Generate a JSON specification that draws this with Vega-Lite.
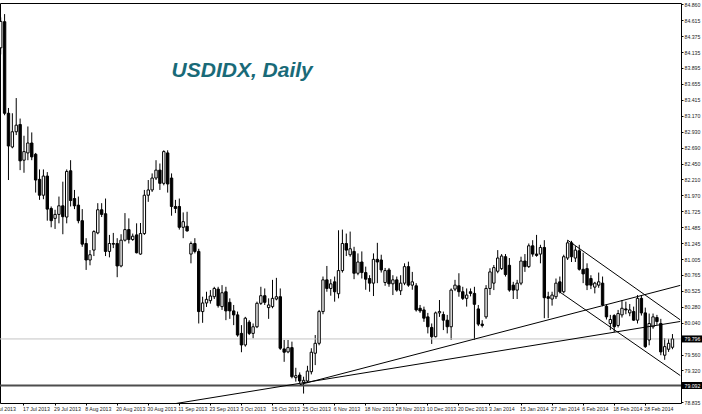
{
"$schema": "https://vega.github.io/schema/vega-lite/v6.json",
"width": 681, "height": 400,
"autosize": {"type": "none"},
"padding": {"left": 0, "top": 3, "right": 21, "bottom": 11},
"background": "white",
"config": {"view": {"stroke": "#000", "strokeWidth": 1}, "axis": {"labelOverlap": false, "labelBound": false}},
"datasets": {
"levels": [{"kind": "support", "price": 79.092}, {"kind": "bid", "price": 79.796}],
"lines": [
{"line": "A", "date": "2013-09-10", "price": 78.818}, {"line": "A", "date": "2014-03-13", "price": 80.060},
{"line": "B", "date": "2013-10-24", "price": 79.104}, {"line": "B", "date": "2014-03-13", "price": 80.606},
{"line": "C", "date": "2014-01-31", "price": 81.290}, {"line": "C", "date": "2014-03-13", "price": 80.085},
{"line": "D", "date": "2014-01-29", "price": 80.505}, {"line": "D", "date": "2014-03-13", "price": 79.243}
],
"candles": [
{"date":"2013-07-09","open":84.2,"high":84.66,"low":84.1,"close":84.6},
{"date":"2013-07-10","open":84.595,"high":84.71,"low":83.18,"close":83.21},
{"date":"2013-07-11","open":83.21,"high":83.29,"low":82.2,"close":82.715},
{"date":"2013-07-12","open":82.7,"high":83.21,"low":82.68,"close":82.93},
{"date":"2013-07-15","open":82.93,"high":83.44,"low":82.88,"close":83.03},
{"date":"2013-07-16","open":83.04,"high":83.13,"low":82.35,"close":82.49},
{"date":"2013-07-17","open":82.5,"high":82.87,"low":82.31,"close":82.63},
{"date":"2013-07-18","open":82.61,"high":83.01,"low":82.5,"close":82.76},
{"date":"2013-07-19","open":82.76,"high":82.92,"low":82.5,"close":82.55},
{"date":"2013-07-22","open":82.59,"high":82.61,"low":82.01,"close":82.2},
{"date":"2013-07-23","open":82.21,"high":82.36,"low":81.9,"close":81.97},
{"date":"2013-07-24","open":81.97,"high":82.36,"low":81.91,"close":82.26},
{"date":"2013-07-25","open":82.26,"high":82.32,"low":81.585,"close":81.76},
{"date":"2013-07-26","open":81.77,"high":81.8,"low":81.485,"close":81.585},
{"date":"2013-07-29","open":81.62,"high":81.75,"low":81.46,"close":81.68},
{"date":"2013-07-30","open":81.68,"high":81.95,"low":81.545,"close":81.81},
{"date":"2013-07-31","open":81.81,"high":82.175,"low":81.38,"close":81.645},
{"date":"2013-08-01","open":81.64,"high":82.36,"low":81.545,"close":82.33},
{"date":"2013-08-02","open":82.34,"high":82.5,"low":81.8,"close":81.89},
{"date":"2013-08-05","open":81.92,"high":82.05,"low":81.76,"close":81.81},
{"date":"2013-08-06","open":81.82,"high":81.95,"low":81.545,"close":81.585},
{"date":"2013-08-07","open":81.585,"high":81.76,"low":81.19,"close":81.23},
{"date":"2013-08-08","open":81.24,"high":81.32,"low":80.84,"close":80.99},
{"date":"2013-08-09","open":80.99,"high":81.14,"low":80.91,"close":81.07},
{"date":"2013-08-12","open":81.14,"high":81.44,"low":81.05,"close":81.42},
{"date":"2013-08-13","open":81.4,"high":81.85,"low":81.38,"close":81.75},
{"date":"2013-08-14","open":81.75,"high":81.85,"low":81.64,"close":81.68},
{"date":"2013-08-15","open":81.69,"high":81.92,"low":81.05,"close":81.12},
{"date":"2013-08-16","open":81.12,"high":81.37,"low":81.03,"close":81.24},
{"date":"2013-08-19","open":81.24,"high":81.4,"low":81.17,"close":81.23},
{"date":"2013-08-20","open":81.24,"high":81.32,"low":80.73,"close":80.9},
{"date":"2013-08-21","open":80.9,"high":81.38,"low":80.88,"close":81.29},
{"date":"2013-08-22","open":81.29,"high":81.7,"low":81.27,"close":81.45},
{"date":"2013-08-23","open":81.45,"high":81.62,"low":81.24,"close":81.3},
{"date":"2013-08-26","open":81.3,"high":81.39,"low":81.28,"close":81.35},
{"date":"2013-08-27","open":81.37,"high":81.545,"low":81.09,"close":81.1},
{"date":"2013-08-28","open":81.08,"high":81.55,"low":81.07,"close":81.39},
{"date":"2013-08-29","open":81.39,"high":82.05,"low":81.37,"close":81.97},
{"date":"2013-08-30","open":81.97,"high":82.2,"low":81.87,"close":82.05},
{"date":"2013-09-02","open":82.05,"high":82.3,"low":82.02,"close":82.23},
{"date":"2013-09-03","open":82.23,"high":82.5,"low":82.2,"close":82.35},
{"date":"2013-09-04","open":82.35,"high":82.45,"low":82.05,"close":82.15},
{"date":"2013-09-05","open":82.15,"high":82.65,"low":82.12,"close":82.63},
{"date":"2013-09-06","open":82.61,"high":82.65,"low":82.01,"close":82.14},
{"date":"2013-09-09","open":82.23,"high":82.3,"low":81.66,"close":81.8},
{"date":"2013-09-10","open":81.8,"high":81.9,"low":81.7,"close":81.77},
{"date":"2013-09-11","open":81.8,"high":81.92,"low":81.45,"close":81.485},
{"date":"2013-09-12","open":81.485,"high":81.71,"low":81.32,"close":81.57},
{"date":"2013-09-13","open":81.5,"high":81.72,"low":81.42,"close":81.43},
{"date":"2013-09-16","open":81.08,"high":81.27,"low":80.94,"close":81.24},
{"date":"2013-09-17","open":81.24,"high":81.32,"low":81.09,"close":81.12},
{"date":"2013-09-18","open":81.12,"high":81.16,"low":80.03,"close":80.21},
{"date":"2013-09-19","open":80.21,"high":80.435,"low":80.04,"close":80.34},
{"date":"2013-09-20","open":80.34,"high":80.51,"low":80.28,"close":80.395},
{"date":"2013-09-23","open":80.375,"high":80.535,"low":80.33,"close":80.445},
{"date":"2013-09-24","open":80.435,"high":80.585,"low":80.4,"close":80.56},
{"date":"2013-09-25","open":80.55,"high":80.585,"low":80.27,"close":80.3},
{"date":"2013-09-26","open":80.285,"high":80.61,"low":80.235,"close":80.495},
{"date":"2013-09-27","open":80.51,"high":80.585,"low":80.08,"close":80.22},
{"date":"2013-09-30","open":80.35,"high":80.41,"low":80.1,"close":80.22},
{"date":"2013-10-01","open":80.22,"high":80.31,"low":80.005,"close":80.16},
{"date":"2013-10-02","open":80.16,"high":80.21,"low":79.83,"close":79.855},
{"date":"2013-10-03","open":79.88,"high":80.005,"low":79.595,"close":79.705},
{"date":"2013-10-04","open":79.705,"high":80.13,"low":79.68,"close":80.11},
{"date":"2013-10-07","open":80.05,"high":80.08,"low":79.855,"close":79.88},
{"date":"2013-10-08","open":79.88,"high":80.03,"low":79.805,"close":79.98},
{"date":"2013-10-09","open":79.98,"high":80.36,"low":79.96,"close":80.335},
{"date":"2013-10-10","open":80.335,"high":80.585,"low":80.31,"close":80.45},
{"date":"2013-10-11","open":80.45,"high":80.56,"low":80.31,"close":80.35},
{"date":"2013-10-14","open":80.27,"high":80.41,"low":80.1,"close":80.31},
{"date":"2013-10-15","open":80.285,"high":80.69,"low":80.26,"close":80.41},
{"date":"2013-10-16","open":80.4,"high":80.72,"low":80.38,"close":80.435},
{"date":"2013-10-17","open":80.435,"high":80.56,"low":79.63,"close":79.655},
{"date":"2013-10-18","open":79.645,"high":79.78,"low":79.45,"close":79.595},
{"date":"2013-10-21","open":79.6,"high":79.78,"low":79.58,"close":79.665},
{"date":"2013-10-22","open":79.665,"high":79.755,"low":79.2,"close":79.225},
{"date":"2013-10-23","open":79.21,"high":79.36,"low":79.15,"close":79.24},
{"date":"2013-10-24","open":79.25,"high":79.29,"low":79.125,"close":79.16},
{"date":"2013-10-25","open":79.14,"high":79.225,"low":78.97,"close":79.17},
{"date":"2013-10-28","open":79.16,"high":79.39,"low":79.13,"close":79.31},
{"date":"2013-10-29","open":79.3,"high":79.655,"low":79.26,"close":79.595},
{"date":"2013-10-30","open":79.58,"high":79.855,"low":79.4,"close":79.73},
{"date":"2013-10-31","open":79.73,"high":80.235,"low":79.7,"close":80.21},
{"date":"2013-11-01","open":80.21,"high":80.74,"low":80.17,"close":80.69},
{"date":"2013-11-04","open":80.69,"high":80.9,"low":80.51,"close":80.56},
{"date":"2013-11-05","open":80.56,"high":80.7,"low":80.45,"close":80.63},
{"date":"2013-11-06","open":80.66,"high":80.74,"low":80.36,"close":80.51},
{"date":"2013-11-07","open":80.48,"high":81.44,"low":80.41,"close":80.83},
{"date":"2013-11-08","open":80.83,"high":81.45,"low":80.8,"close":81.24},
{"date":"2013-11-11","open":81.24,"high":81.39,"low":81.05,"close":81.14},
{"date":"2013-11-12","open":81.07,"high":81.42,"low":81.04,"close":81.16},
{"date":"2013-11-13","open":81.12,"high":81.19,"low":80.7,"close":80.79},
{"date":"2013-11-14","open":80.79,"high":81.09,"low":80.76,"close":80.96},
{"date":"2013-11-15","open":80.96,"high":81.12,"low":80.71,"close":80.8},
{"date":"2013-11-18","open":80.8,"high":80.89,"low":80.54,"close":80.7},
{"date":"2013-11-19","open":80.71,"high":80.76,"low":80.51,"close":80.64},
{"date":"2013-11-20","open":80.64,"high":81.09,"low":80.445,"close":81.0},
{"date":"2013-11-21","open":81.0,"high":81.25,"low":80.64,"close":80.96},
{"date":"2013-11-22","open":80.99,"high":81.07,"low":80.8,"close":80.84},
{"date":"2013-11-25","open":80.65,"high":80.87,"low":80.6,"close":80.83},
{"date":"2013-11-26","open":80.84,"high":80.87,"low":80.585,"close":80.63},
{"date":"2013-11-27","open":80.63,"high":80.76,"low":80.46,"close":80.69},
{"date":"2013-11-28","open":80.69,"high":80.74,"low":80.51,"close":80.535},
{"date":"2013-11-29","open":80.525,"high":80.76,"low":80.46,"close":80.64},
{"date":"2013-12-02","open":80.64,"high":80.94,"low":80.61,"close":80.89},
{"date":"2013-12-03","open":80.89,"high":80.965,"low":80.585,"close":80.61},
{"date":"2013-12-04","open":80.61,"high":80.81,"low":80.54,"close":80.66},
{"date":"2013-12-05","open":80.6,"high":80.64,"low":80.21,"close":80.235},
{"date":"2013-12-06","open":80.26,"high":80.31,"low":80.19,"close":80.22},
{"date":"2013-12-09","open":80.235,"high":80.285,"low":80.055,"close":80.11},
{"date":"2013-12-10","open":80.13,"high":80.19,"low":79.88,"close":79.98},
{"date":"2013-12-11","open":79.97,"high":80.03,"low":79.72,"close":79.83},
{"date":"2013-12-12","open":79.83,"high":80.21,"low":79.82,"close":80.19},
{"date":"2013-12-13","open":80.19,"high":80.385,"low":80.13,"close":80.21},
{"date":"2013-12-16","open":80.165,"high":80.21,"low":79.93,"close":80.08},
{"date":"2013-12-17","open":80.08,"high":80.16,"low":79.88,"close":79.98},
{"date":"2013-12-18","open":79.98,"high":80.56,"low":79.78,"close":80.535},
{"date":"2013-12-19","open":80.55,"high":80.69,"low":80.52,"close":80.61},
{"date":"2013-12-20","open":80.6,"high":80.79,"low":80.435,"close":80.51},
{"date":"2013-12-23","open":80.51,"high":80.585,"low":80.385,"close":80.41},
{"date":"2013-12-24","open":80.41,"high":80.56,"low":80.285,"close":80.46},
{"date":"2013-12-26","open":80.51,"high":80.56,"low":80.44,"close":80.485},
{"date":"2013-12-27","open":80.485,"high":80.585,"low":79.78,"close":80.32},
{"date":"2013-12-30","open":80.25,"high":80.31,"low":79.99,"close":80.02},
{"date":"2013-12-31","open":80.02,"high":80.08,"low":79.97,"close":80.0},
{"date":"2014-01-02","open":80.13,"high":80.61,"low":80.1,"close":80.56},
{"date":"2014-01-03","open":80.56,"high":80.865,"low":80.46,"close":80.81},
{"date":"2014-01-06","open":80.64,"high":80.915,"low":80.535,"close":80.875},
{"date":"2014-01-07","open":80.82,"high":81.14,"low":80.79,"close":81.02},
{"date":"2014-01-08","open":80.86,"high":81.08,"low":80.84,"close":81.05},
{"date":"2014-01-09","open":81.04,"high":81.08,"low":80.74,"close":80.77},
{"date":"2014-01-10","open":80.91,"high":81.02,"low":80.51,"close":80.535},
{"date":"2014-01-13","open":80.61,"high":80.66,"low":80.4,"close":80.535},
{"date":"2014-01-14","open":80.535,"high":80.69,"low":80.4,"close":80.64},
{"date":"2014-01-15","open":80.64,"high":81.04,"low":80.61,"close":80.975},
{"date":"2014-01-16","open":80.975,"high":81.08,"low":80.81,"close":80.89},
{"date":"2014-01-17","open":80.89,"high":81.24,"low":80.87,"close":81.205},
{"date":"2014-01-20","open":81.205,"high":81.29,"low":81.04,"close":81.08},
{"date":"2014-01-21","open":81.08,"high":81.37,"low":81.04,"close":81.06},
{"date":"2014-01-22","open":81.08,"high":81.22,"low":80.94,"close":81.18},
{"date":"2014-01-23","open":81.18,"high":81.29,"low":80.11,"close":80.42},
{"date":"2014-01-24","open":80.435,"high":80.51,"low":80.11,"close":80.41},
{"date":"2014-01-27","open":80.4,"high":80.51,"low":80.3,"close":80.46},
{"date":"2014-01-28","open":80.435,"high":80.71,"low":80.4,"close":80.64},
{"date":"2014-01-29","open":80.66,"high":80.74,"low":80.485,"close":80.51},
{"date":"2014-01-30","open":80.51,"high":81.07,"low":80.485,"close":81.04},
{"date":"2014-01-31","open":81.02,"high":81.29,"low":80.99,"close":81.25},
{"date":"2014-02-03","open":81.25,"high":81.28,"low":80.96,"close":81.04},
{"date":"2014-02-04","open":81.02,"high":81.2,"low":80.96,"close":81.14},
{"date":"2014-02-05","open":81.13,"high":81.22,"low":80.83,"close":80.85},
{"date":"2014-02-06","open":80.85,"high":81.1,"low":80.64,"close":80.78},
{"date":"2014-02-07","open":80.86,"high":80.94,"low":80.535,"close":80.61},
{"date":"2014-02-10","open":80.71,"high":80.76,"low":80.55,"close":80.61},
{"date":"2014-02-11","open":80.58,"high":80.66,"low":80.485,"close":80.64},
{"date":"2014-02-12","open":80.61,"high":80.8,"low":80.57,"close":80.66},
{"date":"2014-02-13","open":80.64,"high":80.74,"low":80.29,"close":80.31},
{"date":"2014-02-14","open":80.29,"high":80.32,"low":80.09,"close":80.13},
{"date":"2014-02-17","open":80.03,"high":80.16,"low":79.93,"close":80.09},
{"date":"2014-02-18","open":80.15,"high":80.17,"low":79.9,"close":79.98},
{"date":"2014-02-19","open":80.0,"high":80.235,"low":79.97,"close":80.18},
{"date":"2014-02-20","open":80.16,"high":80.385,"low":80.12,"close":80.26},
{"date":"2014-02-21","open":80.25,"high":80.36,"low":80.17,"close":80.235},
{"date":"2014-02-24","open":80.19,"high":80.325,"low":80.14,"close":80.235},
{"date":"2014-02-25","open":80.21,"high":80.285,"low":80.07,"close":80.08},
{"date":"2014-02-26","open":80.08,"high":80.46,"low":80.03,"close":80.41},
{"date":"2014-02-27","open":80.41,"high":80.46,"low":80.15,"close":80.19},
{"date":"2014-02-28","open":80.19,"high":80.27,"low":79.66,"close":79.68},
{"date":"2014-03-03","open":79.78,"high":80.18,"low":79.7,"close":80.03},
{"date":"2014-03-04","open":79.98,"high":80.18,"low":79.95,"close":80.13},
{"date":"2014-03-05","open":80.12,"high":80.16,"low":80.01,"close":80.06},
{"date":"2014-03-06","open":80.03,"high":80.1,"low":79.55,"close":79.6},
{"date":"2014-03-07","open":79.55,"high":79.81,"low":79.48,"close":79.68},
{"date":"2014-03-10","open":79.64,"high":79.8,"low":79.6,"close":79.73},
{"date":"2014-03-11","open":79.67,"high":79.87,"low":79.64,"close":79.796}
]
},
"layer": [
{
"data": {"name": "candles"},
"mark": {"type": "rule", "color": "#000", "strokeWidth": 1, "clip": true},
"encoding": {
"x": {"field": "date", "type": "ordinal", "title": null, "bandPosition": 0.5,
"scale": {"type": "band", "paddingInner": 0, "paddingOuter": 0, "range": [-9.0075, 682.17],
"domain": ["2013-07-05","2013-07-08","2013-07-09","2013-07-10","2013-07-11","2013-07-12","2013-07-15","2013-07-16","2013-07-17","2013-07-18","2013-07-19","2013-07-22","2013-07-23","2013-07-24","2013-07-25","2013-07-26","2013-07-29","2013-07-30","2013-07-31","2013-08-01","2013-08-02","2013-08-05","2013-08-06","2013-08-07","2013-08-08","2013-08-09","2013-08-12","2013-08-13","2013-08-14","2013-08-15","2013-08-16","2013-08-19","2013-08-20","2013-08-21","2013-08-22","2013-08-23","2013-08-26","2013-08-27","2013-08-28","2013-08-29","2013-08-30","2013-09-02","2013-09-03","2013-09-04","2013-09-05","2013-09-06","2013-09-09","2013-09-10","2013-09-11","2013-09-12","2013-09-13","2013-09-16","2013-09-17","2013-09-18","2013-09-19","2013-09-20","2013-09-23","2013-09-24","2013-09-25","2013-09-26","2013-09-27","2013-09-30","2013-10-01","2013-10-02","2013-10-03","2013-10-04","2013-10-07","2013-10-08","2013-10-09","2013-10-10","2013-10-11","2013-10-14","2013-10-15","2013-10-16","2013-10-17","2013-10-18","2013-10-21","2013-10-22","2013-10-23","2013-10-24","2013-10-25","2013-10-28","2013-10-29","2013-10-30","2013-10-31","2013-11-01","2013-11-04","2013-11-05","2013-11-06","2013-11-07","2013-11-08","2013-11-11","2013-11-12","2013-11-13","2013-11-14","2013-11-15","2013-11-18","2013-11-19","2013-11-20","2013-11-21","2013-11-22","2013-11-25","2013-11-26","2013-11-27","2013-11-28","2013-11-29","2013-12-02","2013-12-03","2013-12-04","2013-12-05","2013-12-06","2013-12-09","2013-12-10","2013-12-11","2013-12-12","2013-12-13","2013-12-16","2013-12-17","2013-12-18","2013-12-19","2013-12-20","2013-12-23","2013-12-24","2013-12-26","2013-12-27","2013-12-30","2013-12-31","2014-01-02","2014-01-03","2014-01-06","2014-01-07","2014-01-08","2014-01-09","2014-01-10","2014-01-13","2014-01-14","2014-01-15","2014-01-16","2014-01-17","2014-01-20","2014-01-21","2014-01-22","2014-01-23","2014-01-24","2014-01-27","2014-01-28","2014-01-29","2014-01-30","2014-01-31","2014-02-03","2014-02-04","2014-02-05","2014-02-06","2014-02-07","2014-02-10","2014-02-11","2014-02-12","2014-02-13","2014-02-14","2014-02-17","2014-02-18","2014-02-19","2014-02-20","2014-02-21","2014-02-24","2014-02-25","2014-02-26","2014-02-27","2014-02-28","2014-03-03","2014-03-04","2014-03-05","2014-03-06","2014-03-07","2014-03-10","2014-03-11","2014-03-12","2014-03-13"]},
"axis": {"title": null, "grid": false, "domain": false, "ticks": true, "tickSize": 2, "tickColor": "#000", "bandPosition": 0.5, "tickCount": 40,
"values": ["2013-07-05","2013-07-17","2013-07-29","2013-08-08","2013-08-20","2013-08-30","2013-09-11","2013-09-23","2013-10-03","2013-10-15","2013-10-25","2013-11-06","2013-11-18","2013-11-28","2013-12-10","2013-12-20","2014-01-03","2014-01-15","2014-01-27","2014-02-06","2014-02-18","2014-02-28"],
"labelExpr": "utcFormat(toDate(datum.value), '%-d %b %Y')",
"labelAngle": 0, "labelAlign": "left", "labelBaseline": "top", "labelOffset": -1, "labelPadding": 1,
"labelFont": "Liberation Sans", "labelFontSize": 5.2, "labelColor": "#222222", "labelOverlap": false, "labelBound": false}},
"y": {"field": "low", "type": "quantitative", "title": null,
"scale": {"domain": [78.827, 84.878], "zero": false, "nice": false},
"axis": {"orient": "right", "title": null, "grid": false, "domain": false, "ticks": true, "tickSize": 2, "tickColor": "#000", "tickCount": 40,
"values": [84.860, 84.615, 84.375, 84.135, 83.895, 83.655, 83.415, 83.170, 82.930, 82.690, 82.450, 82.210, 81.970, 81.725, 81.485, 81.245, 81.005, 80.765, 80.525, 80.280, 80.040, 79.796, 79.560, 79.320, 79.092, 78.835],
"format": ".3f", "labelFont": "Liberation Sans", "labelFontSize": 5.2, "labelPadding": 1, "labelAlign": "left", "labelBaseline": "middle", "labelOverlap": false, "labelBound": false,
"labelColor": {"condition": {"test": "abs(datum.value - 79.796) < 0.0005 || abs(datum.value - 79.092) < 0.0005", "value": "#ffffff"}, "value": "#222222"},
"zindex": 1}},
"y2": {"field": "high"}
}
},
{
"data": {"name": "levels"},
"transform": [{"filter": "datum.kind == 'bid'"}],
"mark": {"type": "rule", "color": "#c4c4c4", "strokeWidth": 1},
"encoding": {
"y": {"field": "price", "type": "quantitative", "title": null}
}
},
{
"data": {"name": "levels"},
"transform": [{"filter": "datum.kind == 'support'"}],
"mark": {"type": "rule", "color": "#4d4d4d", "strokeWidth": 2},
"encoding": {"y": {"field": "price", "type": "quantitative", "title": null}}
},
{
"data": {"name": "candles"},
"mark": {"type": "bar", "width": 2.4, "stroke": "#000", "strokeWidth": 1, "clip": true},
"encoding": {
"x": {"field": "date", "type": "ordinal", "title": null, "scale": {"type": "band"}},
"y": {"field": "open", "type": "quantitative", "title": null},
"y2": {"field": "close"},
"fill": {"condition": {"test": "datum.close >= datum.open", "value": "#ffffff"}, "value": "#000000"}
}
},
{
"data": {"name": "lines"},
"mark": {"type": "line", "color": "#000", "strokeWidth": 1, "clip": true},
"encoding": {
"x": {"field": "date", "type": "ordinal", "title": null, "bandPosition": 0.5, "scale": {"type": "band"}},
"y": {"field": "price", "type": "quantitative", "title": null},
"detail": {"field": "line"}
}
},
{
"data": {"name": "levels"},
"mark": {"type": "rule", "color": "#000", "strokeWidth": 7, "x2Offset": 21},
"encoding": {
"y": {"field": "price", "type": "quantitative", "title": null},
"x": {"value": "width"},
"x2": {"value": "width"}
}
},
{
"data": {"values": [{"name": "USDIDX, Daily"}]},
"mark": {"type": "text", "font": "Liberation Sans", "fontSize": 21, "fontWeight": "bold", "fontStyle": "italic", "color": "#196a78", "align": "left", "baseline": "alphabetic"},
"encoding": {
"text": {"field": "name"},
"x": {"datum": "2013-09-09", "type": "ordinal", "scale": {"type": "band"}},
"y": {"datum": 83.754, "type": "quantitative"}
}
}
]
}
